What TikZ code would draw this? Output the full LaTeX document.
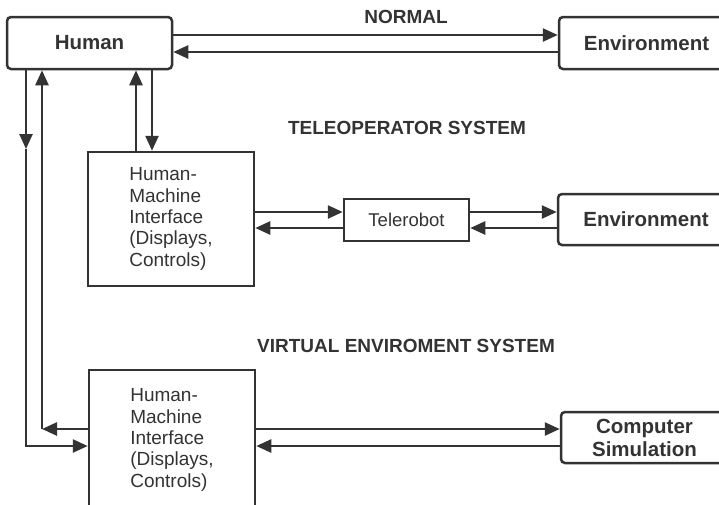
\documentclass[tikz,border=0pt]{standalone}
\usepackage{fontspec}
\setmainfont{Liberation Sans}
\usepackage{tikz}
\usetikzlibrary{arrows.meta}

\definecolor{ink}{HTML}{333333}

\tikzset{
    rbox/.style={draw=ink, line width=2.5pt, rounded corners=4pt, inner sep=0pt,
        text=ink, font=\bfseries\fontsize{20.5}{23}\selectfont, align=center},
    sbox/.style={draw=ink, line width=2.5pt, inner sep=0pt, text=ink},
    hmibox/.style={sbox, minimum width=166pt, minimum height=134pt,
        font=\fontsize{19}{21.3}\selectfont, align=left},
    heading/.style={text=ink, font=\bfseries\fontsize{19}{21}\selectfont},
    flow/.style={draw=ink, line width=2.5pt, -{Triangle[length=15pt,width=13pt]}},
}

\begin{document}
\begin{tikzpicture}[x=1pt, y=-1pt]
        \useasboundingbox (0,0) rectangle (719,504);
        \clip (0,0) rectangle (719,504);

        \node[rbox, minimum width=165pt, minimum height=52pt] (human) at (89.5,43) {Human};
        \node[rbox, minimum width=175pt, minimum height=52pt] (env1) at (646.5,43) {Environment};
        \node[hmibox] (hmi1) at (171,219) {Human-\\Machine\\Interface\\(Displays,\\Controls)};
        \node[sbox, minimum width=125pt, minimum height=42pt,
            font=\fontsize{18.5}{21}\selectfont] (robot) at (406.5,220) {Telerobot};
        \node[rbox, minimum width=176pt, minimum height=51pt] (env2) at (646,219.5) {Environment};
        \node[hmibox, minimum height=140pt] (hmi2) at (172,440) {Human-\\Machine\\Interface\\(Displays,\\Controls)};
        \node[rbox, minimum width=167pt, minimum height=51pt] (sim) at (644.5,437.5) {Computer\\Simulation};

        \node[heading] (normal) at (406,17) {NORMAL};
        \node[heading] (tele) at (407,127.5) {TELEOPERATOR SYSTEM};
        \node[heading] (virtual) at (406,345.5) {VIRTUAL ENVIROMENT SYSTEM};

        \coordinate (laneA) at (26,0);
        \coordinate (laneB) at (42,0);
        \coordinate (laneC) at (136,0);
        \coordinate (laneD) at (152,0);
        \coordinate (rowA) at (0,35);
        \coordinate (rowB) at (0,52);
        \coordinate (rowC) at (0,212);
        \coordinate (rowD) at (0,228);
        \coordinate (rowE) at (0,429);
        \coordinate (rowF) at (0,446);
        \coordinate (midA) at (26,149);

        \draw[flow] (human.east |- rowA) -- (env1.west |- rowA);
        \draw[flow] (env1.west |- rowB) -- (human.east |- rowB);
        \draw[flow] (laneC |- hmi1.north) -- (laneC |- human.south);
        \draw[flow] (laneD |- human.south) -- (laneD |- hmi1.north);
        \draw[flow] (hmi1.east |- rowC) -- (robot.west |- rowC);
        \draw[flow] (robot.west |- rowD) -- (hmi1.east |- rowD);
        \draw[flow] (robot.east |- rowC) -- (env2.west |- rowC);
        \draw[flow] (env2.west |- rowD) -- (robot.east |- rowD);
        \draw[flow] (hmi2.east |- rowE) -- (sim.west |- rowE);
        \draw[flow] (sim.west |- rowF) -- (hmi2.east |- rowF);
        \draw[flow] (laneA |- human.south) -- (midA);
        \draw[flow] (midA) -- (laneA |- rowF) -- (hmi2.west |- rowF);
        \draw[flow] (hmi2.west |- rowE) -- (laneB |- rowE);
        \draw[flow] (laneB |- rowE) -- (laneB |- human.south);
\end{tikzpicture}
\end{document}
